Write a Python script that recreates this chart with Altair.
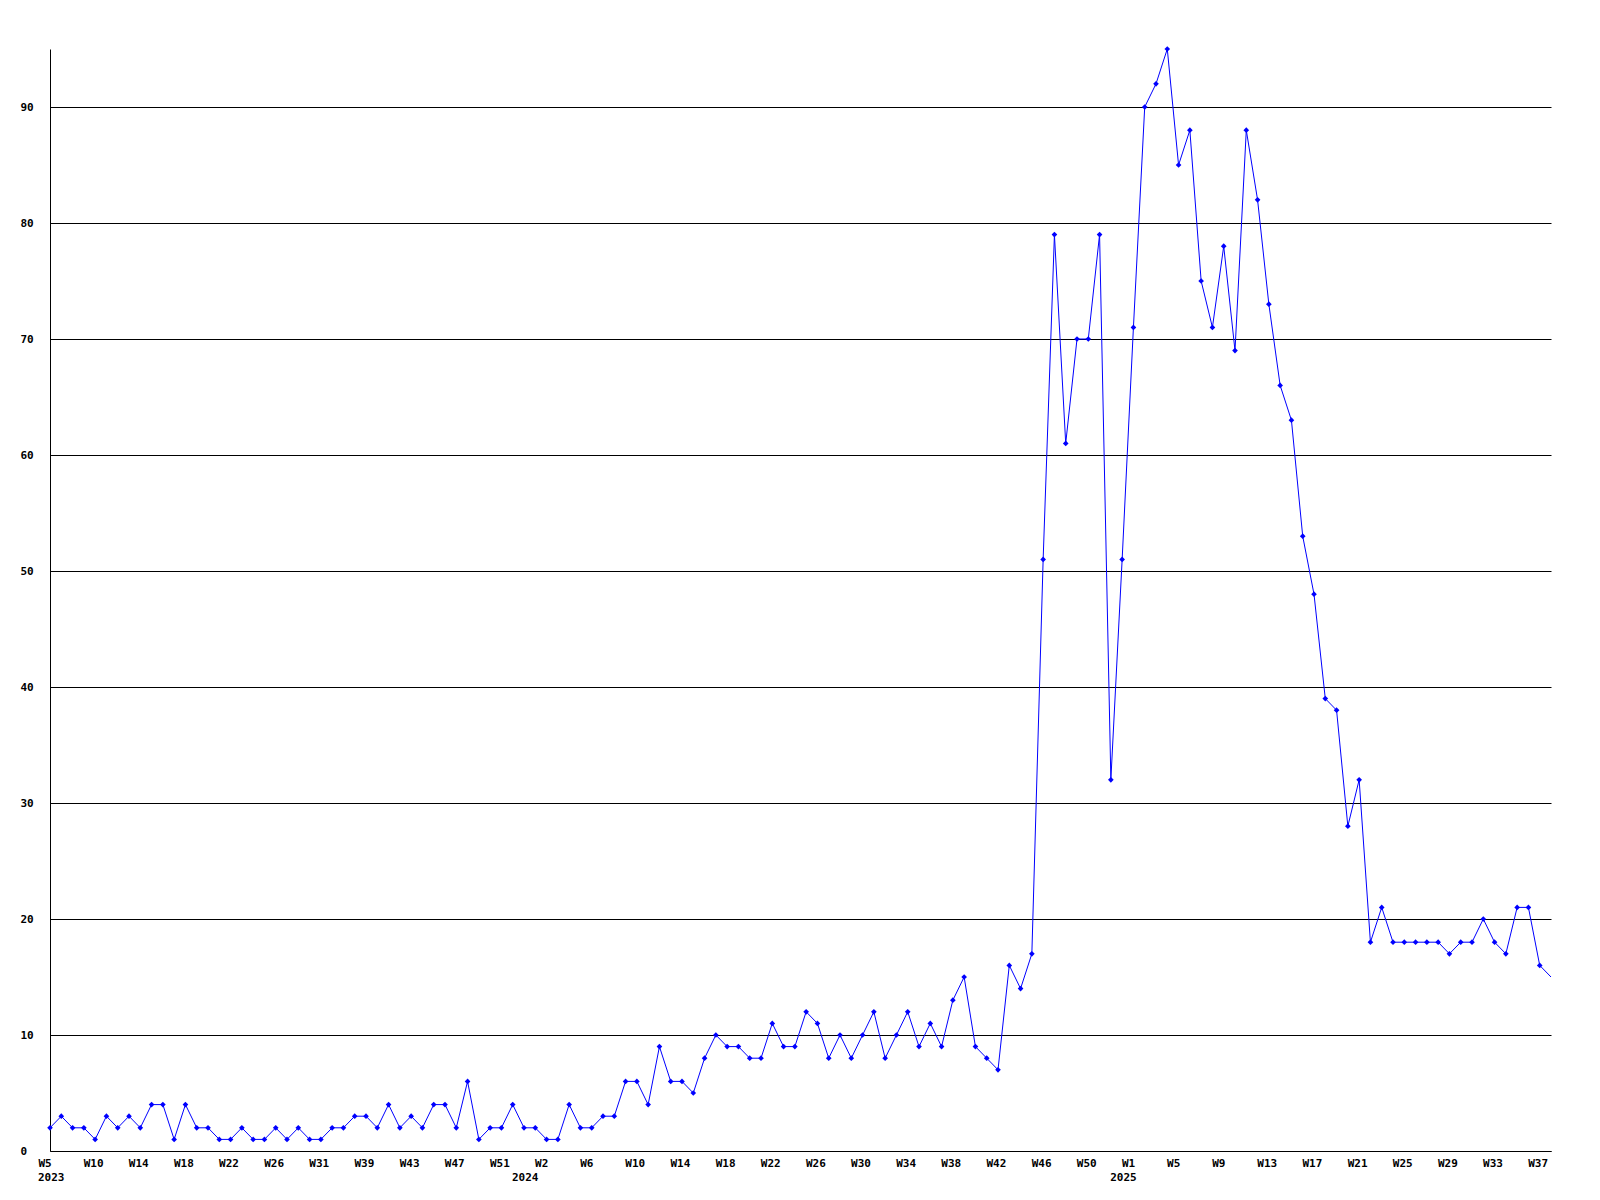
import altair as alt
import pandas as pd

# Weekly values, 2023 W5 .. 2025 W38
values = [
    2, 3, 2, 2, 1, 3, 2, 3, 2, 4,
    4, 1, 4, 2, 2, 1, 1, 2, 1, 1,
    2, 1, 2, 1, 1, 2, 2, 3, 3, 2,
    4, 2, 3, 2, 4, 4, 2, 6, 1, 2,
    2, 4, 2, 2,
    1, 1, 4, 2, 2, 3, 3, 6, 6, 4,
    9, 6, 6, 5, 8, 10, 9, 9, 8, 8,
    11, 9, 9,
    12, 11, 8, 10, 8, 10, 12, 8, 10, 12,
    9, 11, 9, 13, 15, 9, 8, 7, 16, 14,
    17, 51, 79, 61, 70, 70, 79, 32, 51, 71,
    90, 92, 95, 85, 88, 75, 71, 78, 69, 88,
    82, 73, 66, 63, 53, 48, 39, 38, 28, 32,
    18, 21, 18, 18, 18, 18, 18, 17, 18, 18,
    20, 18, 17, 21, 21, 16, 15,
]

# x tick labels, one every 4 points
week_labels = [
    "W5", "W10", "W14", "W18", "W22", "W26", "W31", "W39", "W43", "W47", "W51",
    "W2", "W6", "W10", "W14", "W18", "W22", "W26", "W30", "W34", "W38", "W42",
    "W46", "W50",
    "W1", "W5", "W9", "W13", "W17", "W21", "W25", "W29", "W33", "W37",
]
year_labels = ["2023", "2024", "2025"]
year_index = [0, 42, 95]

y_ticks = [0, 10, 20, 30, 40, 50, 60, 70, 80, 90]

n = len(values)
df = pd.DataFrame({"i": list(range(n)), "v": values})
years_df = pd.DataFrame({"i": year_index, "t": year_labels})
tick_idx = list(range(0, n, 4))

label_expr = "[" + ",".join('"%s"' % w for w in week_labels) + "][datum.value / 4]"

W = 1501
H = 1102
FONT = "DejaVu Sans Mono"
BLUE = "#0000FF"

x_enc = alt.X(
    "i:Q",
    scale=alt.Scale(domain=[0, n - 1], nice=False, zero=False),
    axis=alt.Axis(
        values=tick_idx,
        labelExpr=label_expr,
        title=None,
        grid=False,
        ticks=False,
        tickSize=0,
        labelAlign="left",
        labelBaseline="top",
        labelOffset=-12,
        labelPadding=6,
        labelFont=FONT,
        labelFontSize=11,
        labelFontWeight="bold",
        labelColor="black",
        labelFlush=False,
        labelOverlap=False,
        domainColor="black",
        domainWidth=1,
    ),
)

y_enc = alt.Y(
    "v:Q",
    scale=alt.Scale(domain=[0, 95], nice=False),
    axis=alt.Axis(
        values=y_ticks,
        title=None,
        grid=True,
        gridColor="black",
        gridOpacity=1,
        gridWidth=1,
        ticks=False,
        tickSize=0,
        labelAlign="left",
        labelBaseline="middle",
        labelPadding=30,
        labelFont=FONT,
        labelFontSize=11,
        labelFontWeight="bold",
        labelColor="black",
        domainColor="black",
        domainWidth=1,
    ),
)

base = alt.Chart(df)

line = base.mark_line(color=BLUE, strokeWidth=1).encode(x=x_enc, y=y_enc)

points = base.mark_point(
    shape="diamond", filled=True, color=BLUE, size=32, opacity=1
).encode(x="i:Q", y="v:Q").transform_filter("datum.i < %d" % (n - 1))

years = alt.Chart(years_df).mark_text(
    align="left",
    baseline="top",
    dx=-12,
    font=FONT,
    fontSize=11,
    fontWeight="bold",
    color="black",
).encode(x="i:Q", y=alt.value(H + 21), text="t:N")

chart = (
    alt.layer(line, points, years)
    .properties(
        width=W,
        height=H,
        autosize=alt.AutoSizeParams(type="none"),
        padding={"left": 42, "top": 41, "right": 40, "bottom": 40},
        background="white",
    )
    .configure_view(stroke=None)
)

chart.save("out.html", embed_options={"renderer": "svg", "actions": False})
